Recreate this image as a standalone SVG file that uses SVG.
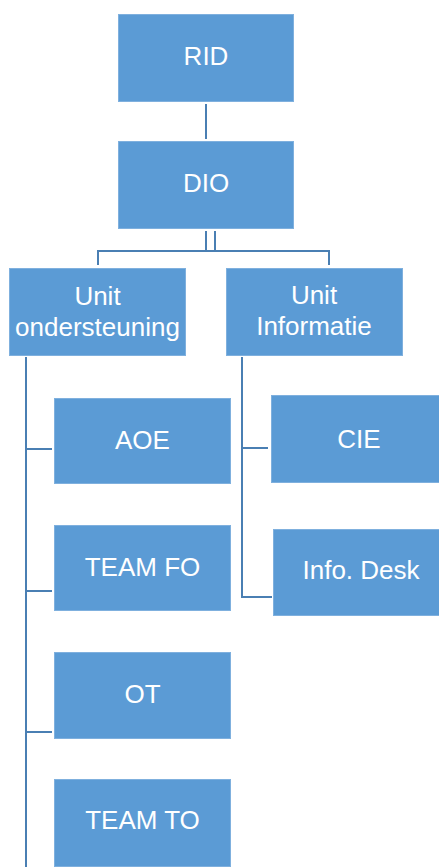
<svg xmlns="http://www.w3.org/2000/svg" width="439" height="867" viewBox="0 0 439 867">
<style>
.box{fill:#5B9BD5;stroke:#7FB0DE;stroke-width:1}
.lbl{fill:#ffffff;font-family:"Liberation Sans",Arial,sans-serif;font-size:26px;text-anchor:middle}
.con{fill:none;stroke:#4A7FB3;stroke-width:2}
</style>
<rect width="439" height="867" fill="#ffffff"/>
<g id="connectors">
<line class="con" x1="206" y1="104" x2="206" y2="139"/>
<polyline class="con" points="206,231 206,251 215,251 215,231"/>
<polyline class="con" points="98,265 98,251 329,251 329,265"/>
<line class="con" x1="26" y1="357" x2="26" y2="867"/>
<line class="con" x1="26" y1="449" x2="52" y2="449"/>
<line class="con" x1="26" y1="591" x2="52" y2="591"/>
<line class="con" x1="26" y1="732" x2="52" y2="732"/>
<polyline class="con" points="242,357 242,597 272,597"/>
<line class="con" x1="242" y1="448" x2="268" y2="448"/>
</g>
<g id="rid"><rect class="box" x="118.5" y="14.5" width="175" height="87"/><text class="lbl" x="206" y="65">RID</text></g>
<g id="dio"><rect class="box" x="118.5" y="141.5" width="175" height="87"/><text class="lbl" x="206" y="192">DIO</text></g>
<g id="unit-ondersteuning"><rect class="box" x="9.5" y="268.5" width="176" height="87"/><text class="lbl" x="97.5" y="305">Unit</text><text class="lbl" x="97.5" y="336">ondersteuning</text></g>
<g id="unit-informatie"><rect class="box" x="226.5" y="268.5" width="176" height="87"/><text class="lbl" x="314" y="304">Unit</text><text class="lbl" x="314" y="335">Informatie</text></g>
<g id="aoe"><rect class="box" x="54.5" y="398.5" width="176" height="85"/><text class="lbl" x="142.5" y="449">AOE</text></g>
<g id="team-fo"><rect class="box" x="54.5" y="525.5" width="176" height="85"/><text class="lbl" x="142.5" y="576">TEAM FO</text></g>
<g id="ot"><rect class="box" x="54.5" y="652.5" width="176" height="86"/><text class="lbl" x="142.5" y="703">OT</text></g>
<g id="team-to"><rect class="box" x="54.5" y="779.5" width="176" height="87"/><text class="lbl" x="142.5" y="829">TEAM TO</text></g>
<g id="cie"><rect class="box" x="271.5" y="395.5" width="176" height="87"/><text class="lbl" x="359" y="448">CIE</text></g>
<g id="info-desk"><rect class="box" x="273.5" y="529.5" width="176" height="86"/><text class="lbl" x="361" y="579">Info. Desk</text></g>
</svg>
